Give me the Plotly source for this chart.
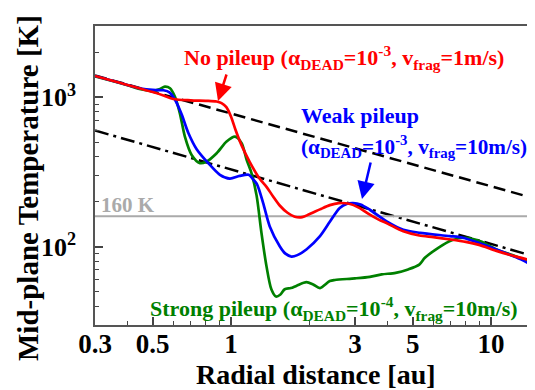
import plotly.graph_objects as go

# ---------------- data ----------------
r_red = [0.3, 0.35, 0.4, 0.45, 0.5, 0.55, 0.6, 0.7, 0.8, 0.88, 0.92, 0.96, 1.0, 1.04, 1.1,
         1.18, 1.29, 1.37, 1.45, 1.54, 1.65, 1.76, 1.88, 2.0, 2.2, 2.4, 2.6, 2.85, 3.1, 3.42,
         3.7, 4.0, 4.6, 5.3, 6.0, 7.0, 8.0, 9.0, 10.5, 12.5, 14.8]
T_red = [1390, 1290, 1210, 1140, 1085, 1030, 975, 955, 948, 938, 915, 860, 745, 610, 475,
         370, 285, 252, 218, 189, 169, 159, 158, 165, 178, 190, 196, 194, 183, 164,
         152, 143, 127, 119, 116, 112, 108, 103, 94, 86, 80]

r_blue = [0.3, 0.35, 0.4, 0.45, 0.5, 0.55, 0.58, 0.61, 0.646, 0.685, 0.738, 0.818, 0.907, 0.99,
          1.08, 1.17, 1.22, 1.26, 1.33, 1.41, 1.54, 1.62, 1.71, 1.8, 1.95, 2.2, 2.4, 2.62,
          2.8, 2.95, 3.15, 3.42, 3.97, 4.6, 5.33, 6.95, 7.8, 9.0, 10.5, 12.5, 14.8]
T_blue = [1390, 1290, 1210, 1145, 1120, 1115, 1080, 960, 770, 580, 450, 363, 303, 286,
          298, 303, 281, 262, 196, 137, 101, 90, 86, 88, 96, 118, 147, 182,
          194, 196, 192, 177, 148, 130, 124, 118, 115, 106, 96, 85, 74]

r_green = [0.3, 0.35, 0.4, 0.45, 0.5, 0.53, 0.557, 0.583, 0.609, 0.636, 0.665, 0.706, 0.76,
           0.806, 0.881, 0.962, 1.036, 1.099, 1.149, 1.2, 1.255, 1.31, 1.37, 1.43, 1.49,
           1.55, 1.61, 1.7, 1.79, 1.95, 2.07, 2.2, 2.4, 2.51, 3.0, 3.42, 3.8, 4.3, 4.8,
           5.3, 5.57, 6.27, 7.07, 7.95, 9.1, 10.5, 12.5, 14.8]
T_green = [1380, 1285, 1205, 1135, 1105, 1130, 1180, 1150, 1008, 782, 546, 412, 363,
           372, 423, 506, 546, 494, 382, 310, 220, 124, 74, 52, 46.5,
           48, 52, 53, 55, 58, 56, 53, 59, 60, 61.5, 63, 65.4, 67, 70.6,
           76, 84.4, 98.5, 110.7, 115, 109, 96, 86, 76]

r_dash = [0.3, 14.8]
T_dash = [1400, 210]
r_dashdot = [0.3, 14.8]
T_dashdot = [600, 86]
T_ice = 160

x_tickvals = [0.3, 0.5, 1, 3, 5, 10]
x_ticktext = ["0.3", "0.5", "1", "3", "5", "10"]
x_minor = [0.4, 0.6, 0.7, 0.8, 0.9, 2, 4, 6, 7, 8, 9]
y_tickvals = [100, 1000]
y_ticktext = ["10<sup>2</sup>", "10<sup>3</sup>"]
y_minor = [40, 50, 60, 70, 80, 90, 200, 300, 400, 500, 600, 700, 800, 900, 2000]

RED = "#ff0000"
BLUE = "#0000ff"
GREEN = "#008000"
FONT = "Liberation Serif"

OFF = 8  # default body margin of the html page
W, H = 535 - OFF, 390 - OFF
L, R, T, B = 95 - OFF, 0, 26 - OFF, 65


def px(x):
    return (x - OFF - L) / (W - L - R)


def py(y):
    return (H - B - (y - OFF)) / (H - B - T)


fig = go.Figure()
fig.add_trace(go.Scatter(x=r_dash, y=T_dash, mode="lines",
                         line=dict(color="black", width=2.5, dash="12px,6px")))
fig.add_trace(go.Scatter(x=r_dashdot, y=T_dashdot, mode="lines",
                         line=dict(color="black", width=2.5, dash="14px,5px,3px,5px")))
fig.add_trace(go.Scatter(x=[0.3, 14.8], y=[T_ice, T_ice], mode="lines",
                         line=dict(color="#aaaaaa", width=2)))
fig.add_trace(go.Scatter(x=r_green, y=T_green, mode="lines",
                         line=dict(color=GREEN, width=2.7, shape="spline", smoothing=0.8)))
fig.add_trace(go.Scatter(x=r_blue, y=T_blue, mode="lines",
                         line=dict(color=BLUE, width=2.7, shape="spline", smoothing=0.8)))
fig.add_trace(go.Scatter(x=r_red, y=T_red, mode="lines",
                         line=dict(color=RED, width=2.7, shape="spline", smoothing=0.8)))

AF = 22
ann = []
ann.append(dict(x=px(344), y=py(57), text="No pileup (α<sub>DEAD</sub>=10<sup>-3</sup>, v<sub>frag</sub>=1m/s)",
                font=dict(family=FONT, size=AF, color=RED), xanchor="center", yanchor="middle"))
ann.append(dict(x=px(299), y=py(115), text="Weak pileup",
                font=dict(family=FONT, size=AF, color=BLUE), xanchor="left", yanchor="middle"))
ann.append(dict(x=px(299), y=py(146), text="(α<sub>DEAD</sub>=10<sup>-3</sup>, v<sub>frag</sub>=10m/s)",
                font=dict(family=FONT, size=21.2, color=BLUE), xanchor="left", yanchor="middle"))
ann.append(dict(x=px(334), y=py(308), text="Strong pileup (α<sub>DEAD</sub>=10<sup>-4</sup>, v<sub>frag</sub>=10m/s)",
                font=dict(family=FONT, size=AF, color=GREEN), xanchor="center", yanchor="middle"))
ann.append(dict(x=px(99), y=py(205), text="160 K",
                font=dict(family=FONT, size=21, color="#aaaaaa"), xanchor="left", yanchor="middle"))
# axis titles
ann.append(dict(x=px(316), y=py(374), text="Radial distance [au]",
                font=dict(family=FONT, size=28, color="black"), xanchor="center", yanchor="middle"))
ann.append(dict(x=px(28), y=py(188), text="Mid-plane Temperature [K]", textangle=-90,
                font=dict(family=FONT, size=29, color="black"), xanchor="center", yanchor="middle"))
for a in ann:
    a.update(xref="paper", yref="paper", showarrow=False)
    a["text"] = "<b>" + a["text"] + "</b>"
# arrows
ann.append(dict(x=px(218), y=py(101), xref="paper", yref="paper", showarrow=True, text="",
                ax=9, ay=-28, arrowcolor=RED, arrowwidth=2.5, arrowhead=2, arrowsize=1.4))
ann.append(dict(x=px(362), y=py(199), xref="paper", yref="paper", showarrow=True, text="",
                ax=9, ay=-38, arrowcolor=BLUE, arrowwidth=2.5, arrowhead=2, arrowsize=1.4))

fig.update_layout(
    width=W, height=H,
    margin=dict(l=L, r=R, t=T, b=B, pad=0),
    plot_bgcolor="white", paper_bgcolor="white",
    showlegend=False,
    annotations=ann,
    font=dict(family=FONT, color="black"),
    xaxis=dict(
        type="log", range=[-0.5229, 1.1693], automargin=False,
        tickvals=x_tickvals, ticktext=x_ticktext,
        ticks="inside", ticklen=8, tickwidth=1.5, tickcolor="#444",
        minor=dict(tickvals=x_minor, ticks="inside", ticklen=4, tickwidth=1.2, tickcolor="#444"),
        showline=True, linecolor="#555", linewidth=1.5, mirror=True,
        showgrid=False, zeroline=False,
        tickfont=dict(family=FONT, size=27, color="black", weight="bold"),
        ticklabelstandoff=-6,
    ),
    yaxis=dict(
        type="log", range=[1.4771, 3.4771], automargin=False,
        tickvals=y_tickvals, ticktext=y_ticktext,
        ticks="inside", ticklen=8, tickwidth=1.5, tickcolor="#444",
        minor=dict(tickvals=y_minor, ticks="inside", ticklen=4, tickwidth=1.2, tickcolor="#444"),
        showline=True, linecolor="#555", linewidth=1.5,
        showgrid=False, zeroline=False,
        tickfont=dict(family=FONT, size=26, color="black", weight="bold"),
        ticklabelstandoff=12,
    ),
)

fig.write_html("out.html")
